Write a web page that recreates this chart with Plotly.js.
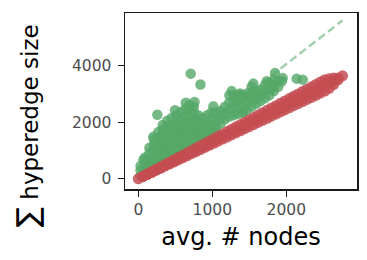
<!DOCTYPE html>
<html>
<head>
<meta charset="utf-8">
<script src="https://cdn.plot.ly/plotly-3.0.1.min.js"></script>
<style>
  html, body { margin: 0; padding: 0; background: #fff; }
  #chart { width: 367px; height: 260px; }
</style>
</head>
<body>
<div id="chart"></div>
<script>
// green: per-hypergraph points (avg. # nodes, sum of hyperedge sizes)
const greenX = [
  30,30,30,
  90,90,90,90,
  150,150,150,150,150,
  210,210,210,210,210,210,
  270,270,270,270,270,270,270,
  330,330,330,330,330,330,330,330,
  390,390,390,390,390,390,390,390,
  450,450,450,450,450,450,450,450,
  510,510,510,510,510,510,510,510,
  570,570,570,570,570,570,570,570,
  630,630,630,630,630,630,630,630,
  690,690,690,690,690,690,690,690,690,
  750,750,750,750,750,750,750,750,
  810,810,810,810,810,810,
  870,870,870,870,870,
  930,930,930,930,930,
  990,990,990,990,990,
  1050,1050,1050,1050,
  1110,1110,1110,
  1170,1170,1170,
  1230,1230,1230,1230,
  1290,1290,1290,1290,
  1350,1350,1350,1350,
  1410,1410,1410,1410,
  1470,1470,1470,
  1530,1530,1530,1530,
  1590,1590,1590,
  1650,1650,1650,
  1710,1710,1710,
  1770,1770,1770,
  1830,1830,1830,
  1890,1890,
  1940,
  708,839,257,496,642,760,1014,1262,1847,1951,1735,1554,1824,1374,1465,1600,1419,2140,2222,203,68
];
const greenY = [
  100,300,450,
  200,400,600,750,
  300,500,700,900,1100,
  400,600,800,1000,1200,1400,
  450,650,850,1050,1250,1450,1650,
  550,750,950,1150,1350,1550,1750,1900,
  650,850,1050,1250,1450,1650,1850,2050,
  700,900,1100,1300,1500,1700,1900,2150,
  800,1000,1200,1400,1600,1800,2000,2250,
  900,1100,1300,1500,1700,1900,2100,2350,
  1000,1200,1400,1600,1800,2000,2200,2450,
  1050,1250,1450,1650,1850,2050,2250,2450,2600,
  1150,1350,1550,1750,1950,2150,2350,2550,
  1250,1450,1650,1850,2050,2250,
  1350,1550,1750,1950,2150,
  1400,1600,1800,2000,2250,
  1500,1700,1900,2100,2350,
  1650,1850,2050,2350,
  1950,2150,2400,
  2100,2300,2550,
  2200,2450,2700,2950,
  2250,2500,2750,2950,
  2300,2550,2800,2950,
  2350,2600,2850,2950,
  2450,2700,2900,
  2550,2800,3050,3250,
  2650,2850,3100,
  2750,2950,3150,
  2850,3050,3300,
  2950,3150,3400,
  3100,3300,3500,
  3250,3450,
  3450,
  3718,3335,2265,2423,2690,2716,2560,3100,3739,3560,3446,3365,3224,3012,3012,2892,2363,3541,3506,1481,660
];
// red: points (avg. # nodes, sum of hyperedge sizes)
const redX = [
  0,
  60,60,60, 120,120,120, 180,180,180, 240,240,240, 300,300,300,
  360,360,360, 420,420,420, 480,480,480, 540,540,540, 600,600,600,
  660,660,660, 720,720,720, 780,780,780, 840,840,840, 900,900,900,
  960,960,960, 1020,1020,1020, 1080,1080,1080, 1140,1140,1140, 1200,1200,1200,
  1260,1260,1260, 1320,1320,1320, 1380,1380,1380, 1440,1440,1440, 1500,1500,1500,
  1560,1560,1560, 1620,1620,1620, 1680,1680,1680, 1740,1740,1740, 1800,1800,1800,
  1860,1860,1860, 1920,1920,1920, 1980,1980,1980, 2040,2040,2040, 2100,2100,2100,
  2160,2160,2160, 2220,2220,2220, 2280,2280,2280, 2340,2340,2340, 2400,2400,2400,
  2460,2460,2460, 2520,2520,2520, 2580,2580,2580, 2640,2640,2640,
  2700,2700, 2760
];
const redY = [
  0,
  74,79,83, 148,157,167, 221,236,250, 295,314,334, 369,393,417,
  443,472,500, 517,550,584, 590,629,667, 664,707,751, 738,786,834,
  812,865,917, 886,943,1001, 959,1022,1084, 1033,1100,1168, 1107,1179,1251,
  1181,1258,1334, 1255,1336,1418, 1328,1415,1501, 1402,1493,1585, 1476,1572,1668,
  1550,1651,1751, 1624,1729,1835, 1697,1808,1918, 1771,1886,2002, 1845,1965,2085,
  1919,2044,2168, 1993,2122,2252, 2066,2201,2335, 2140,2279,2419, 2214,2358,2502,
  2288,2437,2585, 2362,2515,2669, 2435,2594,2752, 2509,2672,2836, 2583,2751,2919,
  2657,2830,3002, 2731,2908,3086, 2804,2987,3169, 2878,3065,3253, 2952,3144,3336,
  3026,3223,3419, 3100,3301,3503, 3200,3380,3540, 3330,3458,3560,
  3500,3560, 3640
];
// dashed reference line
const refX = [0, 2760];
const refY = [0, 5600];

const xTicks = [0, 1000, 2000];
const yTicks = [0, 2000, 4000];

const traces = [
  { x: refX, y: refY, type: 'scatter', mode: 'lines',
    line: { color: 'rgba(85,168,104,0.55)', width: 2.5, dash: '8px,4px' },
    hoverinfo: 'skip', showlegend: false },
  { x: greenX, y: greenY, type: 'scatter', mode: 'markers',
    marker: { color: '#55a868', size: 10.5, opacity: 0.8, line: { width: 0 } },
    showlegend: false },
  { x: redX, y: redY, type: 'scatter', mode: 'markers',
    marker: { color: '#c44e52', size: 11, opacity: 0.85, line: { width: 0 } },
    showlegend: false }
];

const axisCommon = {
  showgrid: false, zeroline: false,
  showline: true, mirror: true, linecolor: '#1a1a1a', linewidth: 1.5,
  ticks: 'outside', ticklen: 6, tickwidth: 1.3, tickcolor: '#1a1a1a',
  tickfont: { family: 'DejaVu Sans', size: 15.5, color: '#4d4d4d' }
};

const layout = {
  width: 367, height: 260,
  margin: { l: 125, r: 10, t: 13, b: 71 },
  paper_bgcolor: '#ffffff', plot_bgcolor: '#ffffff',
  xaxis: Object.assign({}, axisCommon, {
    range: [-180, 2955], tickvals: xTicks, ticktext: xTicks.map(String),
    title: { text: 'avg. # nodes', font: { family: 'DejaVu Sans', size: 24, color: '#000' }, standoff: 10 }
  }),
  yaxis: Object.assign({}, axisCommon, {
    range: [-363, 5863], tickvals: yTicks, ticktext: yTicks.map(String),
    ticklabelstandoff: 3
  }),
  annotations: [{
    text: '<span style="font-size:30px">∑</span> hyperedge size',
    xref: 'paper', yref: 'paper', x: -0.42, y: 0.36,
    xanchor: 'center', yanchor: 'middle', textangle: -90, showarrow: false,
    font: { family: 'DejaVu Sans', size: 23, color: '#000' }
  }],
  showlegend: false
};

Plotly.newPlot('chart', traces, layout, { displayModeBar: false, staticPlot: true });
</script>
</body>
</html>
